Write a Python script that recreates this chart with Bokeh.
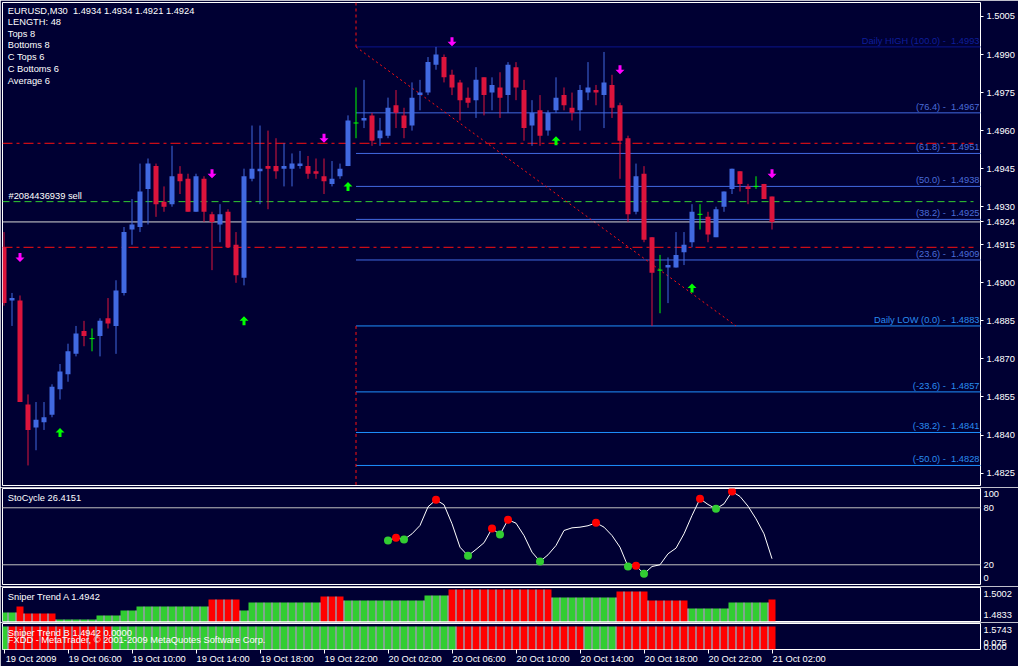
from bokeh.plotting import figure
from bokeh.layouts import column
from bokeh.models import Range1d, FixedTicker, Label, PrintfTickFormatter
from bokeh.core.properties import value
from bokeh.embed import file_html
from bokeh.resources import INLINE

# ---------------- data (EURUSD M30) ----------------
opens = [1.4914, 1.4893, 1.4893, 1.4852, 1.4843, 1.4845, 1.4848, 1.4858, 1.4864, 1.4872,
         1.4881, 1.4878, 1.4879, 1.4886, 1.4883, 1.4896, 1.4921, 1.4922, 1.4937, 1.4946,
         1.4932, 1.4931, 1.4943, 1.4941, 1.4928, 1.4941, 1.4927, 1.4923, 1.4928, 1.4915,
         1.4902, 1.4941, 1.4944, 1.4946, 1.4946, 1.4945, 1.4945, 1.4946, 1.4946, 1.4944,
         1.4942, 1.4939, 1.4942, 1.4946, 1.4963, 1.4964, 1.4966, 1.4957, 1.4958, 1.4970,
         1.4966, 1.4962, 1.4974, 1.4975, 1.4986, 1.4989, 1.4982, 1.4979, 1.4973, 1.4972,
         1.4981, 1.4975, 1.4977, 1.4974, 1.4985, 1.4976, 1.4962, 1.4968, 1.4960, 1.4968,
         1.4974, 1.4969, 1.4968, 1.4975, 1.4976, 1.4974, 1.4978, 1.4970, 1.4957, 1.4928,
         1.4943, 1.4918, 1.4905, 1.4906, 1.4906, 1.4912, 1.4916, 1.4927, 1.4926, 1.4918,
         1.4930, 1.4937, 1.4944, 1.4938, 1.4938, 1.4939, 1.4934]
highs = [1.4920, 1.4896, 1.4895, 1.4856, 1.4853, 1.4853, 1.4860, 1.4868, 1.4876, 1.4883,
         1.4885, 1.4882, 1.4886, 1.4894, 1.4901, 1.4922, 1.4933, 1.4947, 1.4949, 1.4947,
         1.4938, 1.4954, 1.4946, 1.4943, 1.4943, 1.4942, 1.4928, 1.4931, 1.4929, 1.4920,
         1.4945, 1.4962, 1.4962, 1.4960, 1.4957, 1.4955, 1.4951, 1.4952, 1.4950, 1.4949,
         1.4949, 1.4948, 1.4947, 1.4966, 1.4977, 1.4980, 1.4967, 1.4965, 1.4973, 1.4976,
         1.4969, 1.4979, 1.4980, 1.4989, 1.4993, 1.4990, 1.4984, 1.4980, 1.4977, 1.4985,
         1.4981, 1.4981, 1.4983, 1.4987, 1.4987, 1.4980, 1.4972, 1.4974, 1.4968, 1.4981,
         1.4977, 1.4975, 1.4978, 1.4987, 1.4978, 1.4991, 1.4982, 1.4971, 1.4958, 1.4947,
         1.4946, 1.4918, 1.4911, 1.4910, 1.4920, 1.4920, 1.4931, 1.4931, 1.4928, 1.4930,
         1.4936, 1.4945, 1.4944, 1.4939, 1.4942, 1.4939, 1.4934]
lows = [1.4891, 1.4883, 1.4853, 1.4828, 1.4834, 1.4842, 1.4847, 1.4854, 1.4861, 1.4871,
        1.4875, 1.4873, 1.4871, 1.4882, 1.4872, 1.4895, 1.4915, 1.4920, 1.4923, 1.4926,
        1.4928, 1.4930, 1.4935, 1.4928, 1.4928, 1.4924, 1.4905, 1.4916, 1.4914, 1.4900,
        1.4899, 1.4940, 1.4931, 1.4929, 1.4941, 1.4938, 1.4938, 1.4945, 1.4941, 1.4941,
        1.4935, 1.4938, 1.4941, 1.4946, 1.4957, 1.4961, 1.4954, 1.4954, 1.4957, 1.4961,
        1.4957, 1.4960, 1.4968, 1.4974, 1.4984, 1.4979, 1.4974, 1.4964, 1.4969, 1.4965,
        1.4966, 1.4968, 1.4965, 1.4967, 1.4972, 1.4956, 1.4954, 1.4954, 1.4958, 1.4967,
        1.4968, 1.4964, 1.4960, 1.4972, 1.4970, 1.4961, 1.4965, 1.4941, 1.4924, 1.4927,
        1.4916, 1.4883, 1.4888, 1.4892, 1.4906, 1.4907, 1.4914, 1.4921, 1.4916, 1.4918,
        1.4928, 1.4935, 1.4936, 1.4931, 1.4937, 1.4933, 1.4921]
closes = [1.4892, 1.4894, 1.4853, 1.4842, 1.4846, 1.4847, 1.4859, 1.4865, 1.4873, 1.4880,
          1.4879, 1.4878, 1.4885, 1.4884, 1.4897, 1.4920, 1.4923, 1.4936, 1.4947, 1.4931,
          1.4930, 1.4942, 1.4940, 1.4928, 1.4942, 1.4928, 1.4924, 1.4927, 1.4914, 1.4903,
          1.4942, 1.4945, 1.4945, 1.4945, 1.4944, 1.4946, 1.4947, 1.4947, 1.4943, 1.4943,
          1.4940, 1.4941, 1.4945, 1.4964, 1.4963, 1.4965, 1.4956, 1.4960, 1.4969, 1.4967,
          1.4961, 1.4973, 1.4975, 1.4987, 1.4990, 1.4981, 1.4977, 1.4972, 1.4971, 1.4980,
          1.4974, 1.4978, 1.4973, 1.4986, 1.4977, 1.4961, 1.4967, 1.4958, 1.4967, 1.4973,
          1.4970, 1.4967, 1.4976, 1.4977, 1.4975, 1.4979, 1.4969, 1.4956, 1.4927, 1.4942,
          1.4917, 1.4904, 1.4905, 1.4907, 1.4911, 1.4915, 1.4928, 1.4927, 1.4919, 1.4929,
          1.4936, 1.4945, 1.4939, 1.4937, 1.4938, 1.4933, 1.4924]
bars = list(range(len(closes)))

time_tick_bars = [0, 8, 16, 24, 32, 40, 48, 56, 64, 72, 80, 88, 96]
time_tick_labels = ["19 Oct 2009", "19 Oct 06:00", "19 Oct 10:00", "19 Oct 14:00",
                    "19 Oct 18:00", "19 Oct 22:00", "20 Oct 02:00", "20 Oct 06:00",
                    "20 Oct 10:00", "20 Oct 14:00", "20 Oct 18:00", "20 Oct 22:00",
                    "21 Oct 02:00"]
price_ticks = [1.4825, 1.4840, 1.4855, 1.4870, 1.4885, 1.4900, 1.4915,
               1.4930, 1.4945, 1.4960, 1.4975, 1.4990, 1.5005]

fib_names = ["Daily HIGH (100.0)", "(76.4)", "(61.8)", "(50.0)", "(38.2)", "(23.6)",
             "Daily LOW (0.0)", "(-23.6)", "(-38.2)", "(-50.0)"]
fib_prices = [1.4993, 1.4967, 1.4951, 1.4938, 1.4925, 1.4909, 1.4883, 1.4857, 1.4841, 1.4828]
fib_anchor_bars = [44, 91.5]
fib_anchor_prices = [1.4993, 1.4883]
day_separator_bar = 44

order_sl_price = 1.4955
order_open_price = 1.4932
order_tp_price = 1.4914
order_label = "#2084436939 sell"
bid_price = 1.4924

down_arrow_bars = [2, 26, 40, 56, 77, 96]
down_arrow_prices = [1.4910, 1.4943, 1.4957, 1.4995, 1.4984, 1.4943]
up_arrow_bars = [7, 30, 43, 69, 86]
up_arrow_prices = [1.4841, 1.4885, 1.4938, 1.4956, 1.4898]

NB = "\u00a0"
header_lines = ["EURUSD,M30" + NB + " 1.4934 1.4934 1.4921 1.4924", "LENGTH: 48", "Tops 8",
                "Bottoms 8", "C Tops 6", "C Bottoms 6", "Average 6"]

sto_bars = list(range(48, 97))
sto_values = [45.6, 48.4, 46.6, 52.6, 61.4, 81.0, 88.4, 83.2, 63.2, 38.5,
              29.5, 36.1, 43.2, 58.2, 51.9, 67.4, 63.8, 50.8, 33.3, 23.5,
              30.5, 40.3, 56.1, 58.9, 59.6, 61.1, 64.2, 59.6, 50.8, 38.5,
              18.2, 18.9, 10.5, 18.2, 20.0, 31.6, 37.5, 52.6, 71.9, 89.5,
              83.5, 78.9, 84.2, 97.2, 91.9, 81.7, 68.4, 52.6, 26.4]
sto_green_bars = [48, 50, 58, 62, 67, 78, 80, 89]
sto_red_bars = [49, 54, 61, 63, 74, 79, 87, 91]
sto_levels = [80, 20]

sniperA_values = [1.4878, 1.4878, 1.4908, 1.4873, 1.4873, 1.4873, 1.4873,
                  1.4843, 1.4843, 1.4843, 1.4843, 1.4843, 1.4863, 1.4863, 1.4863,
                  1.4888, 1.4888, 1.4908, 1.4908, 1.4908, 1.4908, 1.4908, 1.4908,
                  1.4908, 1.4908, 1.4908, 1.4942, 1.4942, 1.4942, 1.4942, 1.4888,
                  1.4927, 1.4927, 1.4927, 1.4927, 1.4927, 1.4927, 1.4927, 1.4927, 1.4927,
                  1.4957, 1.4957, 1.4957, 1.4937, 1.4937, 1.4937, 1.4937, 1.4937,
                  1.4937, 1.4937, 1.4937, 1.4937, 1.4937, 1.4962, 1.4962, 1.4962,
                  1.4992, 1.4992, 1.4992, 1.4992, 1.4992, 1.4992, 1.4992, 1.4992,
                  1.4992, 1.4992, 1.4992, 1.4992, 1.4992, 1.4952, 1.4952, 1.4952,
                  1.4952, 1.4952, 1.4952, 1.4952, 1.4952, 1.4982, 1.4982, 1.4982, 1.4982,
                  1.4937, 1.4937, 1.4937, 1.4937, 1.4937, 1.4898, 1.4898, 1.4898,
                  1.4898, 1.4898, 1.4927, 1.4927, 1.4927, 1.4927, 1.4927, 1.4942]
sniperA_signal = ("GG" "RRRRR" "GGGGGGGGGGGGGGGGGGG" "RRRR" "GGGGGGGGGG" "RRR"
                  "GGGGGGGGGGGGG" "RRRRRRRRRRRRR" "GGGGGGGG" "RRRRRRRRR" "GGGGGGGGGG" "R")
sniperA_scale = ["1.5002", "1.4833"]
sniperB_signal = ("G" "RRRRRRRRRRRRR" "GGGGGGGGGGGGGGGGGGGGGGGGGGGGGGGGGGGGGGGGGGG"
                  "RRRRRRRRRRRRRRRR" "GGGG" "RRRRRRRRRRRRRRRRRRRR")
sniperB_scale = ["1.5743", "0.075", "0.000"]

# ---------------- style / layout ----------------
BG = "#000033"
FONT = "Liberation Sans"
FS_PX = 9.3
FS = f"{FS_PX}px"
BULL, BEAR, DOJI = "#4169E1", "#DC143C", "#00FF00"
SIG = {"G": "#32CD32", "R": "#FF0000"}
W = 1018
FRAME_L, FRAME_R = 2, 980
BAR_PX = 8.0
X_START = -0.1875
X_END = X_START + (FRAME_R - FRAME_L) / BAR_PX
xr = Range1d(X_START, X_END)

# Liberation Sans advance widths (em) used to left-align the time labels on their ticks
ADV = {" ": 0.278, ":": 0.278, "O": 0.778, "c": 0.5, "t": 0.278}


def left_aligned(text, first=False):
    if first:  # the first label is pushed inside the canvas by Bokeh anyway
        return NB * 2 + text
    em = sum(ADV.get(ch, 0.556) for ch in text)
    return NB * round(em / 0.278) + text


def px_x(px):
    return X_START + (px - FRAME_L) / BAR_PX


class Geo:
    def __init__(self, top, h, y0, y1):
        self.top, self.h, self.y0, self.y1 = top, h, y0, y1

    def y(self, py):
        return self.y1 - (py - self.top) * (self.y1 - self.y0) / self.h


G1 = Geo(2, 483, 1.48201, 1.50105)
G2 = Geo(488, 96, -0.74, 100.3)
G3 = Geo(587, 34, 1.4833, 1.5002)
G4 = Geo(623, 26, 0.0, 1.13)


def make_fig(height, top, bottom, g, x_axis=False):
    p = figure(width=W, height=height, x_range=xr, y_range=Range1d(g.y0, g.y1),
               output_backend="svg", toolbar_location=None, tools="",
               x_axis_location=("below" if x_axis else None), y_axis_location="right",
               background_fill_color=BG, border_fill_color=BG,
               outline_line_color="white", outline_line_width=1,
               min_border_left=FRAME_L, min_border_right=W - FRAME_R,
               min_border_top=top, min_border_bottom=bottom)
    p.xgrid.visible = False
    p.ygrid.visible = False
    for ax in p.yaxis:
        ax.axis_line_color = None
        ax.major_tick_line_color = "white"
        ax.major_tick_in = 0
        ax.major_tick_out = 0
        ax.minor_tick_line_color = None
        ax.major_label_text_color = "white"
        ax.major_label_text_font = FONT
        ax.major_label_text_font_size = FS
        ax.major_label_standoff = 3
    return p


def add_label(p, x, y, text, color="white"):
    p.add_layout(Label(x=x, y=y, text=text, text_color=color, text_font=FONT,
                       text_font_size=FS, text_align="left", text_baseline="middle"))


# ---------------- main price panel ----------------
p1 = make_fig(487, 2, 2, G1)
p1.yaxis.ticker = FixedTicker(ticks=price_ticks + [bid_price])
p1.yaxis.formatter = PrintfTickFormatter(format="%.4f")
p1.yaxis.major_tick_out = 3
p1.yaxis.major_label_standoff = 3
PP = (G1.y1 - G1.y0) / G1.h

# order lines
x_order_end = px_x(973)
p1.segment(x0=[X_START], y0=[order_sl_price], x1=[x_order_end], y1=[order_sl_price],
           line_color="#FF1010", line_width=1, line_dash="10 4 3 4")
p1.segment(x0=[X_START], y0=[order_tp_price], x1=[x_order_end], y1=[order_tp_price],
           line_color="#FF1010", line_width=1, line_dash="10 4 3 4")
p1.segment(x0=[X_START], y0=[order_open_price], x1=[x_order_end], y1=[order_open_price],
           line_color="#32CD32", line_width=1, line_dash="7 4")

# fibonacci levels
fib_line_colors = ["#0A148C"] + ["#4169E1"] * 5 + ["#1E90FF"] * 4
fib_text_colors = ["#0E1E9A"] + ["#4A6CD8"] * 5 + ["#2A8CF0"] * 4
n_fib = len(fib_prices)
p1.segment(x0=[fib_anchor_bars[0]] * n_fib, y0=fib_prices, x1=[X_END + 2] * n_fib,
           y1=fib_prices, line_color=fib_line_colors, line_width=1)
p1.text(x=[X_END] * n_fib, y=fib_prices,
        text=[f"{n} -{NB} {v:.4f}" for n, v in zip(fib_names, fib_prices)],
        text_align="right", text_baseline="bottom", x_offset=-1, y_offset=-1,
        text_font=value(FONT), text_font_size=FS, text_color=fib_text_colors)
# day separator (hidden between the fib high / low)
p1.segment(x0=[day_separator_bar, day_separator_bar], y0=[G1.y1, fib_anchor_prices[1]],
           x1=[day_separator_bar, day_separator_bar], y1=[fib_anchor_prices[0], G1.y0],
           line_color="#FF1010", line_width=1, line_dash="3 3")
# fib trend line
p1.line(x=fib_anchor_bars, y=fib_anchor_prices, line_color="#FF1010", line_width=1,
        line_dash="2 3")

# bid line
p1.segment(x0=[X_START], y0=[bid_price], x1=[X_END + 2], y1=[bid_price],
           line_color="#D8D8D8", line_width=1)

# candles
cols = [BULL if c > o else (BEAR if c < o else DOJI) for o, c in zip(opens, closes)]
p1.segment(x0=bars, y0=lows, x1=bars, y1=highs, line_color=cols, line_width=1)
body_idx = [i for i in bars if opens[i] != closes[i]]
p1.vbar(x=body_idx, width=0.625,
        top=[max(opens[i], closes[i]) for i in body_idx],
        bottom=[min(opens[i], closes[i]) for i in body_idx],
        fill_color=[cols[i] for i in body_idx], line_color=None)
doji_idx = [i for i in bars if opens[i] == closes[i]]
p1.segment(x0=[i - 0.3125 for i in doji_idx], y0=[opens[i] for i in doji_idx],
           x1=[i + 0.3125 for i in doji_idx], y1=[opens[i] for i in doji_idx],
           line_color=DOJI, line_width=1)

# signal arrows
DOWN_SHAPE = [(-1.5, -4.5), (1.5, -4.5), (1.5, 0), (4.5, 0), (0, 4.5), (-4.5, 0), (-1.5, 0)]
p1.patches(xs=[[b + dx / BAR_PX for dx, dy in DOWN_SHAPE] for b in down_arrow_bars],
           ys=[[v - dy * PP for dx, dy in DOWN_SHAPE] for v in down_arrow_prices],
           fill_color="#FF00FF", line_color=None)
p1.patches(xs=[[b + dx / BAR_PX for dx, dy in DOWN_SHAPE] for b in up_arrow_bars],
           ys=[[v + dy * PP for dx, dy in DOWN_SHAPE] for v in up_arrow_prices],
           fill_color="#00FF00", line_color=None)

# texts
for t, py in zip(header_lines, [10.7, 21.0, 33.0, 44.7, 56.7, 68.7, 80.7]):
    add_label(p1, px_x(7.3), G1.y(py), t)
add_label(p1, px_x(8.0), G1.y(195.8), order_label)

# ---------------- StoCycle panel ----------------
p2 = make_fig(99, 1, 2, G2)
p2.yaxis.ticker = FixedTicker(ticks=[94.7, 80, 20, 6.3])
p2.yaxis.major_label_overrides = {94.7: "100", 80: "80", 20: "20", 6.3: "0"}
p2.segment(x0=[X_START - 1] * 2, y0=sto_levels, x1=[X_END + 2] * 2, y1=sto_levels,
           line_color="#C0C0C0", line_width=1)
p2.line(x=sto_bars, y=sto_values, line_color="white", line_width=1)
sto_map = dict(zip(sto_bars, sto_values))
p2.scatter(x=sto_green_bars, y=[sto_map[b] for b in sto_green_bars], size=8,
           fill_color="#32CD32", line_color=None)
p2.scatter(x=sto_red_bars, y=[sto_map[b] for b in sto_red_bars], size=8,
           fill_color="#FF0000", line_color=None)
add_label(p2, px_x(7.3), G2.y(497.7), f"StoCycle {26.4151:.4f}")

# ---------------- Sniper Trend A ----------------
p3 = make_fig(36, 1, 1, G3)
p3.yaxis.ticker = FixedTicker(ticks=[1.49707, 1.48663])
p3.yaxis.major_label_overrides = {1.49707: sniperA_scale[0], 1.48663: sniperA_scale[1]}
p3.vbar(x=bars, width=0.875, top=sniperA_values, bottom=G3.y0,
        fill_color=[SIG[s] for s in sniperA_signal], line_color=None)
p3.vbar(x=[i + 0.5 for i in bars[:-1]], width=0.125,
        top=[min(sniperA_values[i], sniperA_values[i + 1]) for i in bars[:-1]],
        bottom=G3.y0, fill_color="#E8E8E8", line_color=None)
add_label(p3, px_x(7.3), G3.y(596.8), f"Sniper Trend A {sniperA_values[-1]:.4f}")

# ---------------- Sniper Trend B + time axis ----------------
p4 = make_fig(44, 1, 17, G4, x_axis=True)
p4.yaxis.ticker = FixedTicker(ticks=[0.826, 0.274, 0.130])
p4.yaxis.major_label_overrides = {0.826: sniperB_scale[0], 0.274: sniperB_scale[1],
                                  0.130: sniperB_scale[2]}
ax = p4.xaxis[0]
ax.ticker = FixedTicker(ticks=time_tick_bars)
ax.major_label_overrides = {b: left_aligned(t, first=(k == 0))
                            for k, (b, t) in enumerate(zip(time_tick_bars, time_tick_labels))}
ax.axis_line_color = None
ax.major_tick_line_color = "white"
ax.major_tick_in = 0
ax.major_tick_out = 4
ax.minor_tick_line_color = None
ax.major_label_text_color = "white"
ax.major_label_text_font = FONT
ax.major_label_text_font_size = FS
ax.major_label_standoff = 0
sniperB_heights = [1.0] * len(bars)
p4.vbar(x=bars, width=0.875, top=sniperB_heights, bottom=0,
        fill_color=[SIG[s] for s in sniperB_signal], line_color=None)
p4.vbar(x=[i + 0.5 for i in bars[:-1]], width=0.125, top=1.0, bottom=0,
        fill_color="#E8E8E8", line_color=None)
add_label(p4, px_x(7.3), G4.y(632.7), f"Sniper Trend B {sniperA_values[-1]:.4f} 0.0000")
add_label(p4, px_x(7.3), G4.y(639.7), "FXDD - MetaTrader, © 2001-2009 MetaQuotes Software Corp.")

layout = column(p1, p2, p3, p4, spacing=0)
open("out.html", "w").write(file_html(layout, INLINE))
